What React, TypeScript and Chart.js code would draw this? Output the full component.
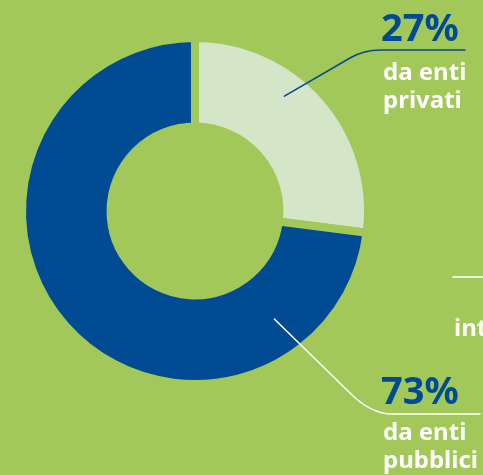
import React, { useEffect, useRef } from "react";
import { Chart, registerables } from "chart.js";

Chart.register(...registerables);

const categories = ["da enti privati", "da enti pubblici"];
const values = [27, 73];
const percentLabels = ["27%", "73%"];
const labelLines = [["da enti", "privati"], ["da enti", "pubblici"]];
const clippedLabel = "int";

const BG = "#a3c85a";
const DARK = "#004b93";
const LIGHT = "#d5e6c8";
const W = 483;
const H = 475;

const labelPlugin = {
  id: "donutLabels",
  afterDraw(chart: any) {
    const ctx = chart.ctx as CanvasRenderingContext2D;
    const meta = chart.getDatasetMeta(0);
    const anchor = (i: number, f: number, g: number) => {
      const a = meta.data[i] as any;
      const p = a.getProps(["x", "y", "startAngle", "endAngle", "innerRadius", "outerRadius"], true);
      const ang = p.startAngle + f * (p.endAngle - p.startAngle);
      const r = p.innerRadius + g * (p.outerRadius - p.innerRadius);
      return { x: p.x + Math.cos(ang) * r, y: p.y + Math.sin(ang) * r };
    };
    ctx.save();
    ctx.lineWidth = 1.6;
    ctx.lineCap = "round";
    const a0 = anchor(0, 0.39, 0.69);
    ctx.strokeStyle = DARK;
    ctx.beginPath();
    ctx.moveTo(a0.x, a0.y);
    ctx.lineTo(350, 58);
    ctx.quadraticCurveTo(364, 50, 380, 50);
    ctx.lineTo(465, 50);
    ctx.stroke();
    const a1 = anchor(1, 0.177, 0.56);
    ctx.strokeStyle = "#ffffff";
    ctx.beginPath();
    ctx.moveTo(a1.x, a1.y);
    ctx.lineTo(350, 393);
    ctx.quadraticCurveTo(371, 414, 392, 414);
    ctx.lineTo(480, 414);
    ctx.stroke();
    ctx.beginPath();
    ctx.moveTo(453, 277);
    ctx.lineTo(483, 277);
    ctx.stroke();

    ctx.textAlign = "left";
    ctx.textBaseline = "alphabetic";
    ctx.fillStyle = DARK;
    ctx.font = 'bold 38px "Noto Sans"';
    ctx.fillText(percentLabels[0], 381, 41);
    ctx.fillText(percentLabels[1], 381, 404);
    ctx.fillStyle = "#ffffff";
    ctx.font = 'bold 24px "Noto Sans"';
    ctx.fillText(labelLines[0][0], 383, 80);
    ctx.fillText(labelLines[0][1], 383, 108);
    ctx.fillText(labelLines[1][0], 383, 440);
    ctx.fillText(labelLines[1][1], 383, 468);
    ctx.fillText(clippedLabel, 454, 336);
    ctx.restore();
  },
};

export default function App() {
  const ref = useRef<HTMLCanvasElement>(null);
  useEffect(() => {
    const chart = new Chart(ref.current!, {
      type: "doughnut",
      data: {
        labels: categories,
        datasets: [
          {
            data: values,
            backgroundColor: [LIGHT, DARK],
            borderColor: BG,
            borderWidth: 8,
            hoverOffset: 0,
          },
        ],
      },
      options: {
        responsive: false,
        animation: false,
        radius: 173,
        cutout: "48.8%",
        layout: { padding: { left: 22, right: 115, top: 30, bottom: 83 } },
        plugins: { legend: { display: false }, tooltip: { enabled: false } },
        events: [],
      },
      plugins: [labelPlugin],
    });
    return () => chart.destroy();
  }, []);
  return (
    <div style={{ position: "fixed", left: 0, top: 0, width: W, height: H, background: BG, overflow: "hidden" }}>
      <canvas ref={ref} width={W} height={H} style={{ display: "block", width: W, height: H }} />
    </div>
  );
}
